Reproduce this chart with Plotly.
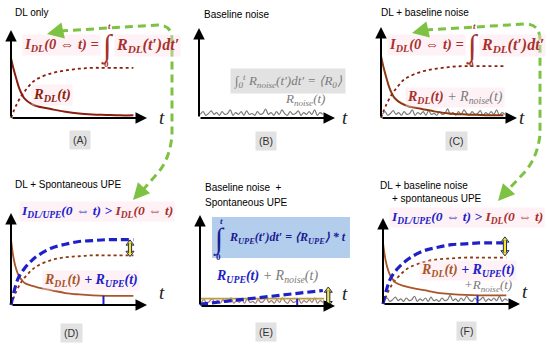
import plotly.graph_objects as go

# ---------------- data (schematic values) ----------------
t_decay = [0, 0.2, 0.4, 0.6, 0.8, 1.0, 1.5, 2, 3, 4, 5, 6, 7, 8, 9]
r_dl_only = [0.68, 0.55, 0.44, 0.34, 0.27, 0.22, 0.16, 0.13, 0.10, 0.07, 0.05, 0.04, 0.035, 0.03, 0.03]
r_dl_upe = [0.71, 0.50, 0.38, 0.31, 0.27, 0.24, 0.21, 0.19, 0.16, 0.13, 0.115, 0.105, 0.10, 0.10, 0.10]

t_int = [0, 0.4, 0.8, 1.2, 1.6, 2, 3, 4, 5, 6, 7, 9]
i_dl = [0, 0.15, 0.26, 0.34, 0.41, 0.45, 0.51, 0.54, 0.56, 0.57, 0.57, 0.57]
i_dl_d = [0, 0.15, 0.26, 0.33, 0.39, 0.43, 0.49, 0.52, 0.53, 0.54, 0.54, 0.54]

t_upe = [0, 0.5, 1, 1.5, 2, 3, 4, 5, 6, 7, 9]
i_dl_upe = [0, 0.28, 0.40, 0.48, 0.54, 0.62, 0.66, 0.69, 0.70, 0.71, 0.71]

t_lin = [0, 9.1]
i_upe_only = [0.02, 0.17]
r_upe_level = [0.08, 0.08]
t_level = [0, 9.2]

noise = [0.04, 0.07, 0.03, 0.05, 0.08, 0.04, 0.06, 0.03, 0.07, 0.04, 0.05, 0.09, 0.03, 0.06, 0.04,
         0.07, 0.03, 0.08, 0.04, 0.05, 0.03, 0.07, 0.04, 0.05, 0.10, 0.04, 0.06, 0.03, 0.07, 0.04,
         0.09, 0.05, 0.03, 0.07, 0.04, 0.05, 0.08, 0.03, 0.06, 0.04, 0.07, 0.04, 0.09, 0.03, 0.06, 0.04]
t_noise = [round(0.1 + 0.2 * i, 2) for i in range(len(noise))]

# ---------------- layout helpers ----------------
FW, FH = 550, 347


def px(x):
    return x / FW


def py(y):
    return 1 - y / FH


# panel: (origin x px, origin y px, axis width px, axis height px)
panels = {
    "A": (11, 118, 136, 88),
    "B": (199, 118, 136, 90),
    "C": (381, 118, 136, 91),
    "D": (11, 305, 136, 92),
    "E": (200, 306, 135, 91),
    "F": (383, 304, 137, 86),
}
XR = (-0.3, 10.3)
YR = (-0.05, 1.05)

RED = "#a8302b"
DKRED = "#8b1e0e"
BROWN = "#a9552a"
BLUE = "#2020c8"
GREY = "#7a7a7a"
GREEN = "#7dc242"
SERIF = "Liberation Serif"
SANS = "Liberation Sans"

fig = go.Figure()
layout = dict(width=FW, height=FH, margin=dict(l=0, r=0, t=0, b=0),
              paper_bgcolor="white", plot_bgcolor="rgba(0,0,0,0)", showlegend=False)
annotations = []
shapes = []
axis_ids = {}

for i, (name, (ox, oy, W, H)) in enumerate(panels.items()):
    n = "" if i == 0 else str(i + 1)
    axis_ids[name] = ("x" + n, "y" + n)
    xd = [px(ox + XR[0] / 10 * W), px(ox + XR[1] / 10 * W)]
    yd = [py(oy - YR[0] * H), py(oy - YR[1] * H)]
    layout["xaxis" + n] = dict(domain=xd, range=list(XR), visible=False, fixedrange=True,
                               anchor="y" + n)
    layout["yaxis" + n] = dict(domain=yd, range=list(YR), visible=False, fixedrange=True,
                               anchor="x" + n)
    xa, ya = "x" + n, "y" + n
    # axis arrows
    for (hx, hy) in [(10, 0), (0, 1)]:
        annotations.append(dict(x=hx, y=hy, ax=0, ay=0, xref=xa, yref=ya, axref=xa, ayref=ya,
                                text="", showarrow=True, arrowhead=2, arrowsize=1.15,
                                arrowwidth=2, arrowcolor="black"))
    annotations.append(dict(x=px(ox + W + 10), y=py(oy), xref="paper", yref="paper",
                            text="<i>t</i>", showarrow=False,
                            font=dict(family=SERIF, size=19, color="#222")))


def line(panel, x, y, color, width, dash="solid"):
    xa, ya = axis_ids[panel]
    fig.add_trace(go.Scatter(x=x, y=y, mode="lines", xaxis=xa, yaxis=ya,
                             line=dict(color=color, width=width, dash=dash, shape="spline"),
                             hoverinfo="skip"))


# Panel A
line("A", t_int, i_dl, DKRED, 1.8, "dot")
line("A", t_decay, r_dl_only, DKRED, 2)
# Panel B
line("B", t_noise, noise, GREY, 1.2)
# Panel C
line("C", t_int, i_dl, DKRED, 1.8, "dot")
line("C", t_noise, noise, GREY, 1.2)
line("C", t_decay, r_dl_only, "#8b3a12", 2)
# Panel D
line("D", t_int, i_dl_d, "#8b3a12", 1.8, "dot")
line("D", t_decay, r_dl_upe, BROWN, 1.8)
line("D", t_upe, i_dl_upe, BLUE, 3.2, "8px,4px")
# Panel E
line("E", t_noise, noise, "#a07878", 1.2)
line("E", t_level, r_upe_level, "#b8a040", 1.8)
line("E", t_lin, i_upe_only, BLUE, 3.2, "8px,4px")
# Panel F
line("F", t_int, i_dl_d, "#8b3a12", 1.8, "dot")
line("F", t_noise, noise, GREY, 1.2)
line("F", t_decay, r_dl_upe, BROWN, 1.8)
line("F", t_upe, i_dl_upe, BLUE, 3.2, "8px,4px")

# blue ticks
for panel, tt, top in [("D", 6.8, 0.10), ("E", 7.2, 0.08), ("F", 6.9, 0.10)]:
    xa, ya = axis_ids[panel]
    shapes.append(dict(type="line", xref=xa, yref=ya, x0=tt, x1=tt, y0=0, y1=top,
                       line=dict(color=BLUE, width=2)))

# yellow double arrows (gap markers)
for panel, tt, lo, hi in [("D", 8.75, 0.565, 0.67), ("E", 9.5, 0.03, 0.17), ("F", 8.9, 0.60, 0.74)]:
    xa, ya = axis_ids[panel]
    for col, w in [("#2a2a66", 4.2), ("#f2ea2a", 2.2)]:
        shapes.append(dict(type="line", xref=xa, yref=ya, x0=tt, x1=tt, y0=lo, y1=hi,
                           line=dict(color=col, width=w)))
    fig.add_trace(go.Scatter(x=[tt, tt], y=[hi, lo], mode="markers", xaxis=xa, yaxis=ya,
                             marker=dict(symbol=["triangle-up", "triangle-down"], size=7,
                                         color="#f2ea2a", line=dict(color="#2a2a66", width=1)),
                             cliponaxis=False, hoverinfo="skip"))


# ---------------- text ----------------
def txt(x, y, s, size=11, color="black", family=SANS, xanchor="left", bg=None, pad=1):
    d = dict(x=px(x), y=py(y), xref="paper", yref="paper", text=s, showarrow=False,
             xanchor=xanchor, yanchor="middle", font=dict(family=family, size=size, color=color),
             borderpad=pad)
    if bg:
        d["bgcolor"] = bg
    annotations.append(d)


PINK = "rgba(252,222,232,0.4)"
TS = 10

# titles
txt(13, 13, "DL only", TS)
txt(202, 15, "Baseline noise", TS)
txt(379, 12, "DL + baseline noise", TS)
txt(13, 184, "DL + Spontaneous UPE", TS)
txt(203, 188, "Baseline noise  +", TS)
txt(203, 202, "Spontaneous UPE", TS)
txt(378, 185, "DL + baseline noise", TS)
txt(390, 199, "+ spontaneous UPE", TS)

# panel letters
for lab, cx, cy in [("(A)", 80, 140), ("(B)", 266, 141), ("(C)", 456, 141),
                    ("(D)", 71, 333), ("(E)", 266, 332), ("(F)", 466, 331)]:
    txt(cx, cy, lab, 10.5, "#333", SANS, "center", "#e2e2e2", 3)


def integral_formula(xint, y, color, left, right):
    txt(xint - 6, y, left, 14.5, color, SERIF, "right", PINK)
    txt(xint, y + 1, "∫", 31, color, SERIF, "center")
    txt(xint + 2, y - 19, "<b><i>t</i></b>", 9, color, SERIF, "center")
    txt(xint - 1, y + 19, "<b>0</b>", 9, color, SERIF, "center")
    txt(xint + 7, y, right, 16, color, SERIF, "left", PINK)


IDL = "<b><i>I<sub>DL</sub>(0 ⇔ t) =</i></b>"
RDLI = "<b><i>R<sub>DL</sub>(t′)dt′</i></b>"
integral_formula(107, 45, RED, IDL, RDLI)
integral_formula(472, 45, RED, IDL, RDLI)

txt(31, 95, "<b><i>R<sub>DL</sub>(t)</i></b>", 14.5, DKRED, SERIF, "left", PINK)

# Panel B formula
txt(288, 81, "<i>∫<sub>0</sub><sup>t</sup> R<sub>noise</sub>(t′)dt′ = ⟨R<sub>0</sub>⟩</i>", 13,
    GREY, SERIF, "center", "#e2e2e2", 3)
txt(283, 100, "<i>R<sub>noise</sub>(t)</i>", 13, GREY, SERIF)

# Panel C text
txt(405, 97, "<b><i>R<sub>DL</sub>(t)</i></b> <span style='color:%s'><i>+ R<sub>noise</sub>(t)</i></span>" % GREY,
    14, RED, SERIF, "left", PINK)

# Panel D
FORM_D = ("<b><i>I<sub>DL/UPE</sub>(0 ⇔ t) > </i></b>"
          "<span style='color:%s'><b><i>I<sub>DL</sub>(0 ⇔ t)</i></b></span>" % RED)
txt(19, 212, FORM_D, 13.5, BLUE, SERIF, "left", PINK)
txt(42, 280, "<b><i>R<sub>DL</sub>(t)</i></b> <span style='color:%s'><b><i>+ R<sub>UPE</sub>(t)</i></b></span>" % BLUE,
    14, BROWN, SERIF, "left", PINK)

# Panel F
txt(389, 217, FORM_D, 13.5, BLUE, SERIF, "left", PINK)
txt(419, 270, "<b><i>R<sub>DL</sub>(t)</i></b> <span style='color:%s'><b><i>+ R<sub>UPE</sub>(t)</i></b></span>" % BLUE,
    14, BROWN, SERIF, "left", PINK)
txt(462, 285, "<i>+R<sub>noise</sub>(t)</i>", 13, GREY, SERIF)

# Panel E
shapes.append(dict(type="rect", xref="paper", yref="paper", x0=px(212), x1=px(350),
                   y0=py(258), y1=py(217), fillcolor="#b3cdec", line=dict(width=0), layer="below"))
DB = "#1a1a90"
txt(219, 239, "∫", 29, DB, SERIF, "center")
txt(221, 221, "<b><i>t</i></b>", 9, DB, SERIF, "center")
txt(218, 257, "<b>0</b>", 9, DB, SERIF, "center")
txt(227, 238, "<b><i>R<sub>UPE</sub>(t′)dt′ = ⟨R<sub>UPE</sub>⟩ * t</i></b>", 12, DB, SERIF)
txt(214, 276, "<b><i>R<sub>UPE</sub>(t)</i></b> <span style='color:%s'><i>+ R<sub>noise</sub>(t)</i></span>" % GREY,
    14, BLUE, SERIF)


# ---------------- green dashed arrows ----------------
def P(x, y):
    return "%.4f,%.4f" % (px(x), py(y))


path1 = ("M " + P(60, 31) + " L " + P(158, 25) + " Q " + P(172, 25) + " " + P(172, 40) +
         " L " + P(172, 135) + " Q " + P(170, 160) + " " + P(156, 175) + " L " + P(141, 192))
path2 = ("M " + P(425, 30) + " L " + P(525, 24) + " Q " + P(540, 24) + " " + P(540, 40) +
         " L " + P(540, 135) + " Q " + P(537, 160) + " " + P(522, 175) + " L " + P(506, 192))
for pth in (path1, path2):
    shapes.append(dict(type="path", path=pth, xref="paper", yref="paper",
                       line=dict(color=GREEN, width=3, dash="8px,5px")))
for (hx, hy, axp, ayp) in [(47, 34, 14, -3), (133, 200, 9, -10), (412, 33, 14, -3), (498, 201, 9, -10)]:
    annotations.append(dict(x=px(hx), y=py(hy), xref="paper", yref="paper", ax=axp, ay=ayp,
                            text="", showarrow=True, arrowhead=2, arrowsize=1.1, arrowwidth=3,
                            arrowcolor=GREEN))

layout["annotations"] = annotations
layout["shapes"] = shapes
fig.update_layout(**layout)
fig.write_html("out.html", config={"displayModeBar": False},
               post_script="document.body.style.margin='0';document.body.style.overflow='hidden';")
